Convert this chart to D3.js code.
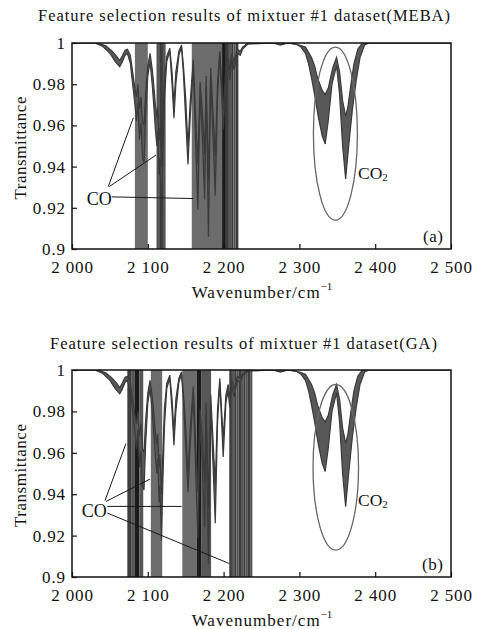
<!DOCTYPE html>
<html><head><meta charset="utf-8">
<script src="https://cdn.jsdelivr.net/npm/d3@7"></script>
<style>
body{margin:0;background:#fff}
svg{display:block}
text{font-family:"Liberation Serif","Times New Roman",serif;fill:#111}
</style>
</head><body>
<svg id="c" width="479" height="629"></svg>
<script>
// ---------- data ----------
const panelTitles = ["Feature selection results of mixtuer #1 dataset(MEBA)",
                     "Feature selection results of mixtuer #1 dataset(GA)"];
const panelTags = ["(a)", "(b)"];
const xTickValues = [2000, 2100, 2200, 2300, 2400, 2500];
const xTickLabels = ["2 000", "2 100", "2 200", "2 300", "2 400", "2 500"];
const yTickValues = [0.9, 0.92, 0.94, 0.96, 0.98, 1];
const yTickLabels = ["0.9", "0.92", "0.94", "0.96", "0.98", "1"];

// shallowest spectrum of the sample set (upper envelope)
const shallowWn = [2000,2035,2045,2053,2059,2063,2066,2070,2073,2077,2080,2083,2085,2087,2089,2091,2093,2095,2097,2100,
  2103,2106,2108,2110,2112,2113,2115,2116,2118,2120,2122,2125,2129,2132,2134.5,2137,2141,2144.5,2147,2150,
  2153,2156,2160,2163,2166,2169,2172,2175,2177,2180,2183,2189,2192,2195,2199.5,2203,2206,2208,2211,2214,
  2218,2222,2225,2232,2265,2275,2285,2300,2308,2316,2320,2324,2330,2334,2338,2344,2349,2353,2357,2361,
  2364,2368,2372,2377,2383,2500];
const shallowT = [1,1,0.9985,0.996,0.9935,0.9915,0.9935,0.9965,0.997,0.994,0.986,0.978,0.974,0.980,0.968,0.974,0.962,0.960,0.975,0.989,
  0.995,0.987,0.979,0.970,0.964,0.969,0.953,0.959,0.940,0.962,0.982,0.9935,0.9975,0.986,0.970,0.986,0.996,0.999,0.989,0.973,
  0.950,0.972,0.992,0.966,0.941,0.981,0.967,0.946,0.984,0.933,0.988,0.945,0.981,0.996,0.967,0.988,0.993,0.987,0.995,0.991,
  0.997,0.996,0.998,1,1,0.9995,1,0.999,0.998,0.993,0.989,0.983,0.977,0.975,0.978,0.988,0.993,0.986,0.972,0.9645,
  0.969,0.980,0.990,0.997,1,1];

// deepest spectrum of the sample set (lower envelope)
const deepWn = [2000,2030,2040,2050,2057,2063,2066,2070,2073,2077,2080,2083,2085,2087,2089,2091,2093,2095,2097,2100,
  2103,2106,2108,2110,2112,2113,2115,2116,2118,2120,2122,2125,2129,2132,2134.5,2137,2141,2144.5,2147,2150,
  2153,2156,2160,2163,2166,2169,2172,2175,2177,2180,2183,2189,2192,2195,2199.5,2203,2206,2208,2211,2214,
  2218,2222,2225,2232,2265,2275,2285,2296,2302,2308,2312,2316,2320,2325,2330,2334,2338,2343,2349,2353,
  2357,2361,2365,2370,2375,2380,2386,2392,2500];
const deepT = [1,1,0.9985,0.995,0.991,0.9885,0.9905,0.994,0.995,0.990,0.980,0.970,0.962,0.971,0.953,0.961,0.944,0.942,0.963,0.984,
  0.991,0.979,0.969,0.958,0.950,0.957,0.936,0.944,0.9175,0.948,0.973,0.991,0.996,0.980,0.9635,0.980,0.994,0.998,0.985,0.963,
  0.941,0.964,0.989,0.953,0.919,0.974,0.954,0.924,0.979,0.906,0.983,0.926,0.974,0.994,0.958,0.984,0.990,0.982,0.992,0.987,
  0.995,0.994,0.997,0.9995,1,0.999,1,0.9995,0.998,0.995,0.990,0.983,0.975,0.964,0.955,0.951,0.962,0.980,0.989,0.975,
  0.950,0.934,0.950,0.968,0.982,0.993,0.999,1,1];

// selected wavenumber intervals: [start, end, selection level]
const mebaBands = [[2083,2100,1],[2111.5,2115,2],[2115,2120,3],[2120,2123.5,2],
  [2158,2198,1],[2198,2203,4],[2203,2207,3],[2207,2210,2],[2210,2213,3],[2213,2216,2],[2216,2219.5,3]];
const gaBands = [[2073,2078,3],[2078,2083,2],[2083,2089,4],[2089,2094,2],
  [2104,2119,1],
  [2145.5,2164.5,1],[2164.5,2171,4],[2171,2183.5,2],
  [2207.5,2211,3],[2211,2214,2],[2214,2217,3],[2217,2220,2],[2220,2223,3],[2223,2226,2],
  [2226,2229,3],[2229,2232,2],[2232,2235,3],[2235,2238,2]];

// CO2 ellipse: [centre wavenumber, centre T, half width (cm-1), half height (T)]
const co2Ellipses = [[2347.5, 0.956, 29, 0.042], [2348, 0.953, 30, 0.040]];
// CO label anchor [wn, T] and pointer lines [wn1, T1, wn2, T2]
const coLabels = [[2019.4, 0.9245], [2012.8, 0.932]];
const coPointers = [
  [[2047.9,0.9303,2080.9,0.9637],[2049.2,0.9303,2110.8,0.9456],[2052.4,0.9253,2160,0.9245]],
  [[2043.5,0.9369,2071.2,0.9645],[2044.9,0.9365,2102.9,0.9473],[2046.6,0.9341,2144.7,0.9341],[2046.6,0.9309,2207.5,0.9065]]
];
const co2Labels = [[2377.3, 0.937], [2377.3, 0.937]];
const tagPos = [2490, 0.906];

// ---------- drawing ----------
const svg = d3.select("#c");
const panels = [
  {top: 43, bottom: 249, titleY: 15, titleX: 244, titleW: 412, bands: mebaBands},
  {top: 370, bottom: 577, titleY: 343, titleX: 243.5, titleW: 387, bands: gaBands}
];
const left = 72, right = 451;
const levelColor = d3.scaleOrdinal([1,2,3,4], ["#6c6c6c","#565656","#3c3c3c","#1b1b1b"]);

const shallow = shallowWn.map((w,i)=>[w, shallowT[i]]);
const deep = deepWn.map((w,i)=>[w, deepT[i]]);

panels.forEach((p, pi) => {
  const x = d3.scaleLinear().domain([2000, 2500]).range([left, right]);
  const y = d3.scaleLinear().domain([0.9, 1]).range([p.bottom, p.top]);
  const g = svg.append("g");
  const clipId = "clip" + pi;
  g.append("clipPath").attr("id", clipId).append("rect")
    .attr("x", left).attr("y", p.top).attr("width", right-left).attr("height", p.bottom-p.top);

  // title
  svg.append("text").attr("x", p.titleX).attr("y", p.titleY).attr("text-anchor","middle")
    .attr("dominant-baseline","central").style("font-size","16.5px")
    .attr("textLength", p.titleW).attr("lengthAdjust","spacing").text(panelTitles[pi]);

  // selected bands
  g.append("g").selectAll("rect").data(p.bands).join("rect")
    .attr("x", d => x(d[0])).attr("width", d => x(d[1]) - x(d[0]))
    .attr("y", p.top).attr("height", p.bottom - p.top)
    .attr("fill", d => levelColor(d[2]));

  // spectrum band
  const line = d3.line().x(d => x(d[0])).y(d => y(d[1]));
  const sg = g.append("g").attr("clip-path", `url(#${clipId})`);
  const poly = shallow.concat(deep.slice().reverse());
  sg.append("path").attr("d", line(poly) + "Z").attr("fill", "#585858").attr("stroke", "none");
  sg.append("path").attr("d", line(shallow)).attr("fill","none").attr("stroke","#3a3a3a").attr("stroke-width",1.2);
  sg.append("path").attr("d", line(deep)).attr("fill","none").attr("stroke","#3a3a3a").attr("stroke-width",1.2);

  // ellipse
  const e = co2Ellipses[pi];
  g.append("ellipse").attr("cx", x(e[0])).attr("cy", y(e[1]))
    .attr("rx", x(e[0]+e[2]) - x(e[0])).attr("ry", y(e[1]-e[3]) - y(e[1]))
    .attr("fill","none").attr("stroke","#666").attr("stroke-width",1.3);

  // pointers
  g.append("g").selectAll("line").data(coPointers[pi]).join("line")
    .attr("x1", d => x(d[0])).attr("y1", d => y(d[1])).attr("x2", d => x(d[2])).attr("y2", d => y(d[3]))
    .attr("stroke", "#1a1a1a").attr("stroke-width", 1);

  // labels
  const cl = coLabels[pi];
  g.append("text").attr("x", x(cl[0])).attr("y", y(cl[1])).attr("dominant-baseline","central")
    .style("font-size","18px").attr("textLength", 25).text("CO");
  const c2 = co2Labels[pi];
  const t2 = g.append("text").attr("x", x(c2[0])).attr("y", y(c2[1])).attr("dominant-baseline","central")
    .style("font-size","17.5px");
  t2.append("tspan").text("CO");
  t2.append("tspan").attr("dy", 4).style("font-size","11px").text("2");
  g.append("text").attr("x", x(tagPos[0])).attr("y", y(tagPos[1])).attr("text-anchor","end")
    .attr("dominant-baseline","central").style("font-size","17px").style("letter-spacing","0.5px").text(panelTags[pi]);

  // frame
  g.append("rect").attr("x", left).attr("y", p.top).attr("width", right-left).attr("height", p.bottom-p.top)
    .attr("fill","none").attr("stroke","#111").attr("stroke-width",1.5);

  // x axis
  const xa = d3.axisBottom(x).tickValues(xTickValues).tickSize(-5).tickPadding(11)
    .tickFormat((d,i) => xTickLabels[i]);
  const xg = g.append("g").attr("transform", `translate(0,${p.bottom})`).call(xa);
  xg.select(".domain").remove();
  xg.selectAll("line").attr("stroke","#111").attr("stroke-width",1.2);
  xg.selectAll("text").style("font-size","17px").attr("fill","#111")
    .style("font-family",'"Liberation Serif",serif').style("letter-spacing","0.9px")
    .attr("dy","0.35em").attr("y", 18);

  // y axis
  const ya = d3.axisLeft(y).tickValues(yTickValues).tickSize(-5).tickPadding(6)
    .tickFormat((d,i) => yTickLabels[i]);
  const yg = g.append("g").attr("transform", `translate(${left},0)`).call(ya);
  yg.select(".domain").remove();
  yg.selectAll("line").attr("stroke","#111").attr("stroke-width",1.2);
  yg.selectAll("text").style("font-size","17px").attr("fill","#111")
    .style("font-family",'"Liberation Serif",serif').style("letter-spacing","0.9px");

  // axis titles
  const xl = svg.append("text").attr("x", 262).attr("y", p.bottom + 43).attr("text-anchor","middle")
    .attr("dominant-baseline","central").style("font-size","17px");
  xl.append("tspan").attr("textLength", 128).text("Wavenumber/cm");
  xl.append("tspan").attr("dy", -6).style("font-size","11px").text("\u22121");
  svg.append("text").attr("transform", `translate(20,${(p.top+p.bottom)/2 + 2}) rotate(-90)`)
    .attr("text-anchor","middle").attr("dominant-baseline","central").style("font-size","17px")
    .attr("textLength", 103).text("Transmittance");
});
</script>
</body></html>
